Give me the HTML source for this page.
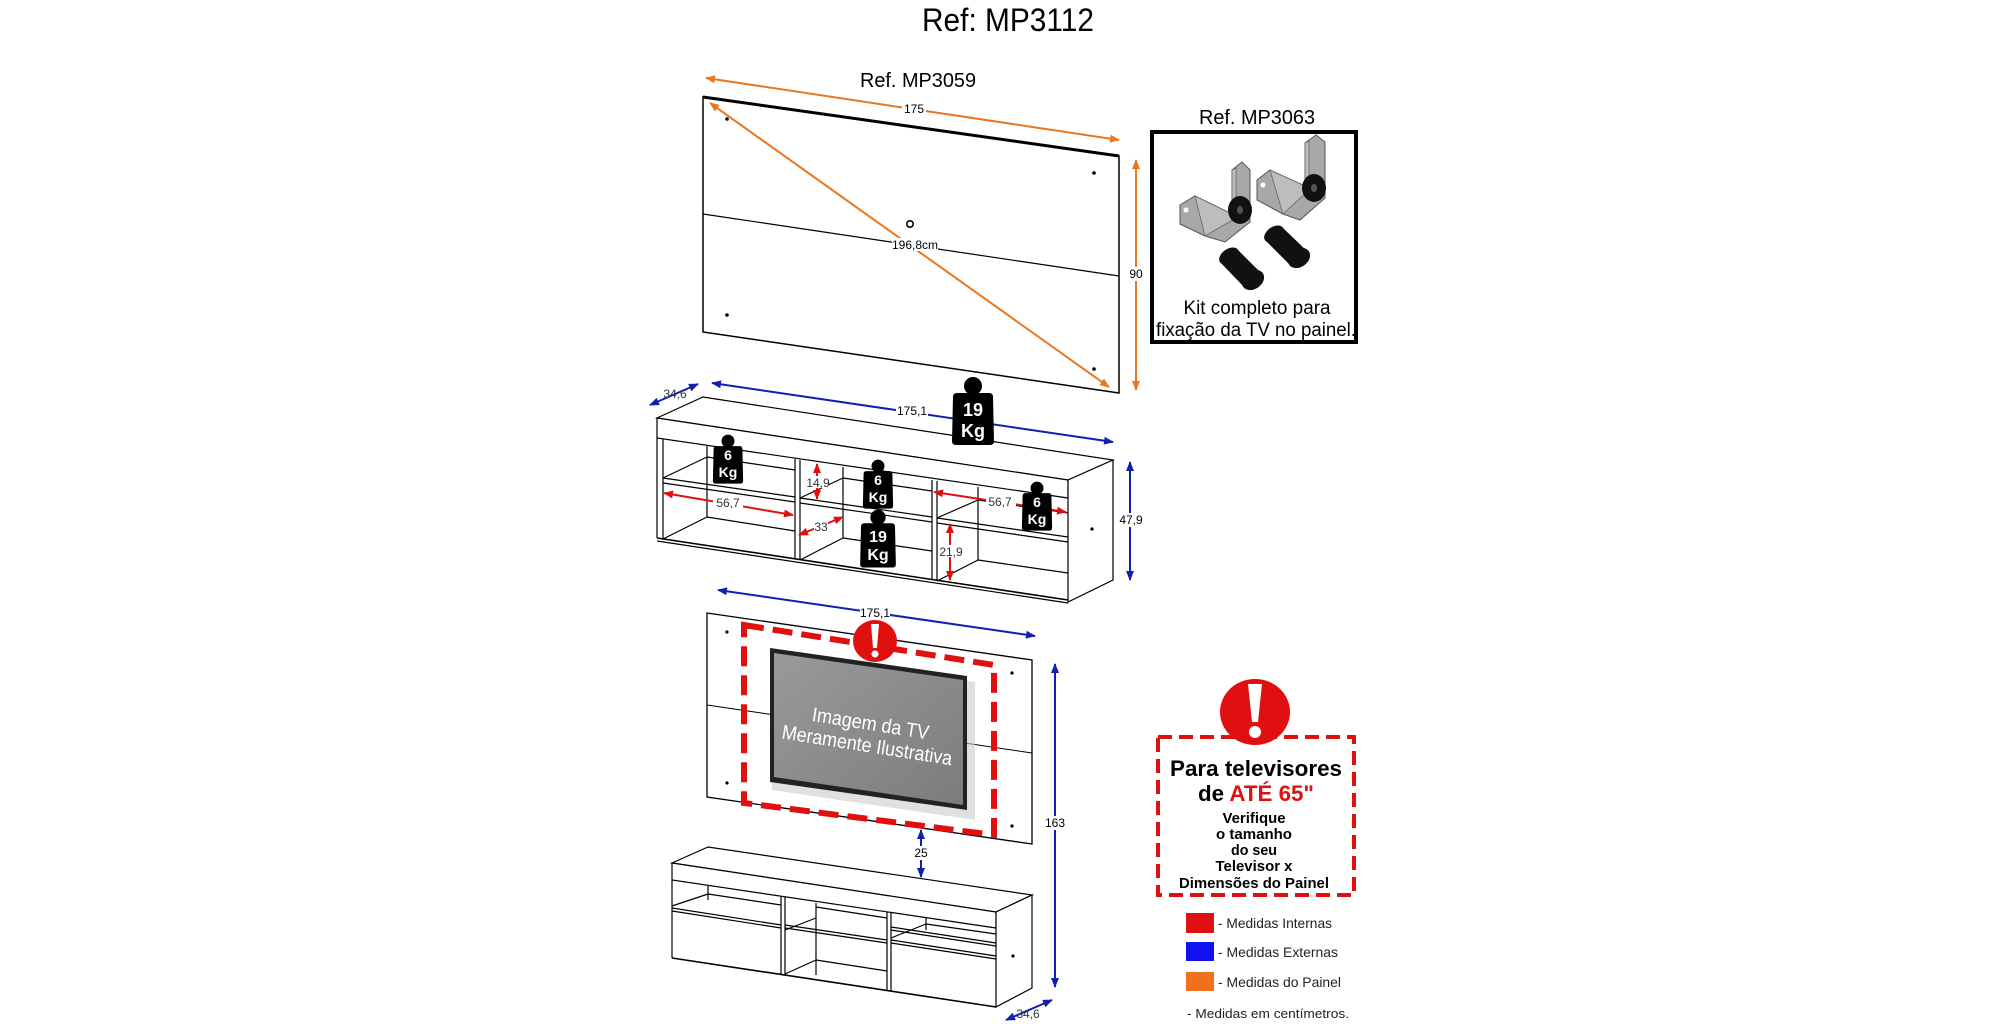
<!DOCTYPE html>
<html><head><meta charset="utf-8"><style>
html,body{margin:0;padding:0;background:#fff;}
svg{display:block;}
text{font-family:"Liberation Sans Narrow","Liberation Sans",sans-serif;}
</style></head><body>
<svg width="2000" height="1028" viewBox="0 0 2000 1028" xmlns="http://www.w3.org/2000/svg">
<defs>
<marker id="ao" markerWidth="10" markerHeight="8" refX="9" refY="4" orient="auto-start-reverse" markerUnits="userSpaceOnUse"><path d="M0,0 L10,4 L0,8 Z" fill="#e87722"/></marker>
<marker id="ab" markerWidth="10" markerHeight="8" refX="9" refY="4" orient="auto-start-reverse" markerUnits="userSpaceOnUse"><path d="M0,0 L10,4 L0,8 Z" fill="#1020b0"/></marker>
<marker id="ar" markerWidth="10" markerHeight="8" refX="9" refY="4" orient="auto-start-reverse" markerUnits="userSpaceOnUse"><path d="M0,0 L10,4 L0,8 Z" fill="#e01010"/></marker>
<g id="w">
<circle cx="0" cy="-29" r="9" fill="#000"/>
<path d="M-16,-22 L16,-22 Q20,-22 20,-18 L21,26 Q21,30 17,30 L-17,30 Q-21,30 -21,26 L-20,-18 Q-20,-22 -16,-22 Z" fill="#000"/>
</g>
<linearGradient id="tvg" x1="0" y1="0" x2="1" y2="1"><stop offset="0" stop-color="#9a9a9a"/><stop offset="1" stop-color="#7c7c7c"/></linearGradient>
</defs>

<text x="1008" y="31" font-size="32" text-anchor="middle" textLength="172" lengthAdjust="spacingAndGlyphs">Ref: MP3112</text>
<text x="918" y="87" font-size="20" text-anchor="middle" textLength="116" lengthAdjust="spacingAndGlyphs">Ref. MP3059</text>

<polygon points="703,97 1119,156 1119,393 703,332" fill="#fff" stroke="#000" stroke-width="1.5"/>
<line x1="703" y1="97" x2="1119" y2="156" stroke="#000" stroke-width="3"/>
<line x1="703" y1="214" x2="1119" y2="276" stroke="#000" stroke-width="1.2"/>
<circle cx="727" cy="119" r="1.8"/><circle cx="1094" cy="173" r="1.8"/><circle cx="727" cy="315" r="1.8"/><circle cx="1094" cy="369" r="1.8"/>
<circle cx="910" cy="224" r="3.2" fill="none" stroke="#000" stroke-width="1.6"/>
<line x1="706" y1="78" x2="1119" y2="140" stroke="#e87722" stroke-width="2" marker-start="url(#ao)" marker-end="url(#ao)"/>
<rect x="902" y="103" width="24" height="12" fill="#fff"/>
<text x="914" y="113" font-size="12" text-anchor="middle">175</text>
<line x1="710" y1="103" x2="1109" y2="387" stroke="#e87722" stroke-width="2" marker-start="url(#ao)" marker-end="url(#ao)"/>
<rect x="892" y="238" width="46" height="13" fill="#fff"/>
<text x="915" y="249" font-size="12" text-anchor="middle">196,8cm</text>
<line x1="1136" y1="160" x2="1136" y2="390" stroke="#e87722" stroke-width="2" marker-start="url(#ao)" marker-end="url(#ao)"/>
<rect x="1128" y="267" width="16" height="14" fill="#fff"/>
<text x="1136" y="278" font-size="12" text-anchor="middle">90</text>

<text x="1257" y="124" font-size="20" text-anchor="middle" textLength="116" lengthAdjust="spacingAndGlyphs">Ref. MP3063</text>
<rect x="1152" y="132" width="204" height="210" fill="#fff" stroke="#000" stroke-width="4"/>
<polygon points="1180,205 1195,196 1232,214 1232,170 1242,162 1250,170 1250,222 1225,242 1205,236 1180,224" fill="#a8a8a8" stroke="#555" stroke-width="1"/>
<polygon points="1195,196 1232,214 1232,170 1236,168 1236,218 1205,236" fill="#bdbdbd" stroke="#666" stroke-width="0.8"/>
<circle cx="1186" cy="210" r="2.5" fill="#fff"/>
<ellipse cx="1240" cy="210" rx="12" ry="14" fill="#111"/><ellipse cx="1240" cy="210" rx="3" ry="4" fill="#555"/>
<polygon points="1257,180 1270,170 1305,186 1305,143 1316,135 1325,142 1325,198 1300,220 1283,214 1257,200" fill="#a8a8a8" stroke="#555" stroke-width="1"/>
<polygon points="1270,170 1305,186 1305,143 1309,141 1309,190 1283,214" fill="#bdbdbd" stroke="#666" stroke-width="0.8"/>
<circle cx="1263" cy="185" r="2.5" fill="#fff"/>
<ellipse cx="1314" cy="188" rx="12" ry="14" fill="#111"/><ellipse cx="1314" cy="188" rx="3" ry="4" fill="#555"/>
<g fill="#111">
<polygon points="1220,262 1238,250 1262,274 1244,287"/><ellipse cx="1229" cy="256" rx="11" ry="7" transform="rotate(-35 1229 256)"/><ellipse cx="1253" cy="280" rx="12" ry="9" transform="rotate(-35 1253 280)"/>
<polygon points="1265,240 1283,228 1308,252 1290,265"/><ellipse cx="1274" cy="234" rx="11" ry="7" transform="rotate(-35 1274 234)"/><ellipse cx="1299" cy="258" rx="12" ry="9" transform="rotate(-35 1299 258)"/>
</g>
<text x="1257" y="314" font-size="19" text-anchor="middle" textLength="147" lengthAdjust="spacingAndGlyphs">Kit completo para</text>
<text x="1256" y="336" font-size="19" text-anchor="middle" textLength="200" lengthAdjust="spacingAndGlyphs">fixação da TV no painel.</text>

<g fill="none" stroke="#000" stroke-width="1.2">
<polygon points="657,418 703,397 1113,460 1068,480" fill="#fff"/>
<polygon points="657,418 1068,480 1068,498 657,438" fill="#fff"/>
<polygon points="1068,480 1113,460 1113,580 1068,602" fill="#fff"/>
<line x1="657" y1="438" x2="657" y2="538"/>
<line x1="663" y1="439" x2="663" y2="539"/>
<line x1="657" y1="538" x2="1068" y2="600" stroke-width="1.6"/>
<line x1="657" y1="541" x2="1068" y2="603"/>
<line x1="795" y1="459" x2="795" y2="559"/><line x1="800" y1="460" x2="800" y2="560"/>
<line x1="932" y1="480" x2="932" y2="580"/><line x1="937" y1="481" x2="937" y2="581"/>
<line x1="707" y1="446" x2="707" y2="517"/>
<line x1="707" y1="457" x2="795" y2="470"/>
<line x1="663" y1="478" x2="795" y2="497"/><line x1="663" y1="483" x2="795" y2="502"/>
<line x1="663" y1="478" x2="707" y2="457"/>
<line x1="707" y1="517" x2="795" y2="531"/>
<line x1="663" y1="539" x2="707" y2="517"/>
<line x1="843" y1="467" x2="843" y2="538"/>
<line x1="800" y1="498" x2="932" y2="517"/><line x1="800" y1="503" x2="932" y2="522"/>
<line x1="800" y1="498" x2="843" y2="478"/>
<line x1="843" y1="478" x2="932" y2="491"/>
<line x1="843" y1="538" x2="932" y2="551"/>
<line x1="800" y1="560" x2="843" y2="538"/>
<line x1="978" y1="487" x2="978" y2="560"/>
<line x1="937" y1="518" x2="1068" y2="537"/><line x1="937" y1="523" x2="1068" y2="542"/>
<line x1="937" y1="518" x2="978" y2="500"/>
<line x1="978" y1="500" x2="1068" y2="513"/>
<line x1="978" y1="560" x2="1068" y2="573"/>
<line x1="937" y1="581" x2="978" y2="560"/>
</g>
<circle cx="1092" cy="529" r="1.6"/>
<line x1="712" y1="383" x2="1113" y2="442" stroke="#1020b0" stroke-width="2" marker-start="url(#ab)" marker-end="url(#ab)"/>
<rect x="896" y="404" width="32" height="13" fill="#fff"/>
<text x="912" y="415" font-size="12" text-anchor="middle">175,1</text>
<line x1="650" y1="405" x2="698" y2="384" stroke="#1020b0" stroke-width="2" marker-start="url(#ab)" marker-end="url(#ab)"/>
<text x="675" y="398" font-size="12" text-anchor="middle" fill="#333">34,6</text>
<line x1="1130" y1="462" x2="1130" y2="580" stroke="#1020b0" stroke-width="2" marker-start="url(#ab)" marker-end="url(#ab)"/>
<rect x="1118" y="513" width="26" height="14" fill="#fff"/>
<text x="1131" y="524" font-size="12" text-anchor="middle">47,9</text>
<g stroke="#e01010" stroke-width="2">
<line x1="664" y1="493" x2="793" y2="515" marker-start="url(#ar)" marker-end="url(#ar)"/>
<line x1="817" y1="464" x2="817" y2="499" marker-start="url(#ar)" marker-end="url(#ar)"/>
<line x1="799" y1="535" x2="843" y2="517" marker-start="url(#ar)" marker-end="url(#ar)"/>
<line x1="934" y1="492" x2="1066" y2="512" marker-start="url(#ar)" marker-end="url(#ar)"/>
<line x1="950" y1="524" x2="950" y2="580" marker-start="url(#ar)" marker-end="url(#ar)"/>
</g>
<g font-size="12" fill="#333" text-anchor="middle">
<rect x="713" y="496" width="30" height="12" fill="#fff"/><text x="728" y="507">56,7</text>
<rect x="808" y="476" width="20" height="12" fill="#fff"/><text x="818" y="487">14,9</text>
<rect x="814" y="520" width="14" height="12" fill="#fff"/><text x="821" y="531">33</text>
<rect x="986" y="495" width="30" height="12" fill="#fff"/><text x="1000" y="506">56,7</text>
<rect x="940" y="545" width="22" height="12" fill="#fff"/><text x="951" y="556">21,9</text>
</g>
<g transform="translate(973,415)"><use href="#w"/><text x="0" y="1" font-size="18" font-weight="bold" fill="#fff" text-anchor="middle">19</text><text x="0" y="22" font-size="18" font-weight="bold" fill="#fff" text-anchor="middle">Kg</text></g>
<g transform="translate(878,542)"><use href="#w" transform="scale(0.85)"/><text x="0" y="0" font-size="16" font-weight="bold" fill="#fff" text-anchor="middle">19</text><text x="0" y="18" font-size="16" font-weight="bold" fill="#fff" text-anchor="middle">Kg</text></g>
<g transform="translate(728,462)"><use href="#w" transform="scale(0.72)"/><text x="0" y="-2" font-size="14" font-weight="bold" fill="#fff" text-anchor="middle">6</text><text x="0" y="15" font-size="14" font-weight="bold" fill="#fff" text-anchor="middle">Kg</text></g>
<g transform="translate(878,487)"><use href="#w" transform="scale(0.72)"/><text x="0" y="-2" font-size="14" font-weight="bold" fill="#fff" text-anchor="middle">6</text><text x="0" y="15" font-size="14" font-weight="bold" fill="#fff" text-anchor="middle">Kg</text></g>
<g transform="translate(1037,509)"><use href="#w" transform="scale(0.72)"/><text x="0" y="-2" font-size="14" font-weight="bold" fill="#fff" text-anchor="middle">6</text><text x="0" y="15" font-size="14" font-weight="bold" fill="#fff" text-anchor="middle">Kg</text></g>

<line x1="718" y1="590" x2="1035" y2="636" stroke="#1020b0" stroke-width="2" marker-start="url(#ab)" marker-end="url(#ab)"/>
<polygon points="707,613 1032,660 1032,844 707,797" fill="#fff" stroke="#000" stroke-width="1.3"/>
<line x1="707" y1="705" x2="1032" y2="753" stroke="#000" stroke-width="1"/>
<rect x="860" y="606" width="30" height="12" fill="#fff"/>
<text x="875" y="617" font-size="12" text-anchor="middle">175,1</text>
<circle cx="727" cy="632" r="1.6"/><circle cx="1012" cy="673" r="1.6"/><circle cx="727" cy="783" r="1.6"/><circle cx="1012" cy="826" r="1.6"/>
<polygon points="744,625 994,665 994,835 744,803" fill="none" stroke="#e01010" stroke-width="6" stroke-dasharray="20 9"/>
<polygon points="772,652 975,682 975,820 772,790" fill="#ccc" opacity="0.6"/>
<polygon points="770,648 967,676 967,810 770,782" fill="#222"/>
<polygon points="774,653 963,680 963,805 774,777" fill="url(#tvg)"/>
<g transform="rotate(9 868 740)" fill="#fff" font-size="20" text-anchor="middle">
<text x="868" y="730" textLength="118" lengthAdjust="spacingAndGlyphs">Imagem da TV</text>
<text x="868" y="752" textLength="172" lengthAdjust="spacingAndGlyphs">Meramente Ilustrativa</text>
</g>
<ellipse cx="875" cy="641" rx="22" ry="21" fill="#e01010"/>
<path d="M871,624 L879,624 L877,648 L873,648 Z" fill="#fff"/><circle cx="875" cy="654" r="3.5" fill="#fff"/>
<line x1="1055" y1="664" x2="1055" y2="987" stroke="#1020b0" stroke-width="2" marker-start="url(#ab)" marker-end="url(#ab)"/>
<rect x="1045" y="816" width="20" height="14" fill="#fff"/>
<text x="1055" y="827" font-size="12" text-anchor="middle">163</text>
<line x1="921" y1="830" x2="921" y2="877" stroke="#1020b0" stroke-width="2" marker-start="url(#ab)" marker-end="url(#ab)"/>
<rect x="912" y="846" width="18" height="14" fill="#fff"/>
<text x="921" y="857" font-size="12" text-anchor="middle">25</text>

<g fill="none" stroke="#000" stroke-width="1.2">
<polygon points="672,863 708,847 1032,895 996,912" fill="#fff"/>
<polygon points="672,863 996,912 996,928 672,880" fill="#fff"/>
<polygon points="996,912 1032,895 1032,988 996,1007" fill="#fff"/>
<line x1="672" y1="880" x2="672" y2="958"/>
<line x1="672" y1="958" x2="996" y2="1007" stroke-width="1.6"/>
<line x1="781" y1="896" x2="781" y2="974"/><line x1="785" y1="897" x2="785" y2="975"/>
<line x1="887" y1="912" x2="887" y2="990"/><line x1="891" y1="913" x2="891" y2="991"/>
<line x1="708" y1="886" x2="708" y2="900"/>
<line x1="708" y1="894" x2="781" y2="905"/>
<line x1="672" y1="906" x2="708" y2="894"/>
<line x1="672" y1="908" x2="781" y2="925"/><line x1="672" y1="911" x2="781" y2="928"/>
<line x1="816" y1="903" x2="816" y2="975"/>
<line x1="816" y1="907" x2="887" y2="918"/>
<line x1="785" y1="925" x2="887" y2="940"/><line x1="785" y1="928" x2="887" y2="943"/>
<line x1="785" y1="930" x2="816" y2="918"/>
<line x1="816" y1="960" x2="887" y2="971"/>
<line x1="785" y1="974" x2="816" y2="960"/>
<line x1="926" y1="918" x2="926" y2="930"/>
<line x1="926" y1="924" x2="996" y2="934"/>
<line x1="891" y1="927" x2="996" y2="943"/><line x1="891" y1="930" x2="996" y2="946"/>
<line x1="891" y1="938" x2="926" y2="924"/>
<line x1="891" y1="940" x2="996" y2="956"/><line x1="891" y1="943" x2="996" y2="959"/>
</g>
<circle cx="1013" cy="956" r="1.6"/>
<line x1="1006" y1="1020" x2="1052" y2="1000" stroke="#1020b0" stroke-width="2" marker-start="url(#ab)" marker-end="url(#ab)"/>
<text x="1028" y="1018" font-size="12" text-anchor="middle" fill="#333">34,6</text>

<rect x="1158" y="737" width="196" height="158" fill="#fff" stroke="#e01010" stroke-width="4" stroke-dasharray="14 7"/>
<ellipse cx="1255" cy="712" rx="35" ry="33" fill="#e01010"/>
<path d="M1248,684 L1262,684 L1258,722 L1252,722 Z" fill="#fff"/><circle cx="1255" cy="732" r="6" fill="#fff"/>
<text x="1256" y="776" font-size="22" font-weight="bold" text-anchor="middle" textLength="172" lengthAdjust="spacingAndGlyphs">Para televisores</text>
<text x="1256" y="801" font-size="22" font-weight="bold" text-anchor="middle" textLength="116" lengthAdjust="spacingAndGlyphs">de <tspan fill="#e01010">ATÉ 65"</tspan></text>
<g font-size="15" font-weight="bold" text-anchor="middle">
<text x="1254" y="823" textLength="63" lengthAdjust="spacingAndGlyphs">Verifique</text>
<text x="1254" y="839" textLength="76" lengthAdjust="spacingAndGlyphs">o tamanho</text>
<text x="1254" y="855" textLength="46" lengthAdjust="spacingAndGlyphs">do seu</text>
<text x="1254" y="871" textLength="77" lengthAdjust="spacingAndGlyphs">Televisor x</text>
<text x="1254" y="888" textLength="150" lengthAdjust="spacingAndGlyphs">Dimensões do Painel</text>
</g>
<rect x="1186" y="913" width="28" height="20" fill="#e01010"/>
<rect x="1186" y="942" width="28" height="19" fill="#1010f0"/>
<rect x="1186" y="972" width="28" height="19" fill="#f07020"/>
<g font-size="14" fill="#222">
<text x="1218" y="928" textLength="114" lengthAdjust="spacingAndGlyphs">- Medidas Internas</text>
<text x="1218" y="957" textLength="120" lengthAdjust="spacingAndGlyphs">- Medidas Externas</text>
<text x="1218" y="987" textLength="123" lengthAdjust="spacingAndGlyphs">- Medidas do Painel</text>
<text x="1187" y="1018" font-size="13" textLength="162" lengthAdjust="spacingAndGlyphs">- Medidas em centímetros.</text>
</g>
</svg>
</body></html>
